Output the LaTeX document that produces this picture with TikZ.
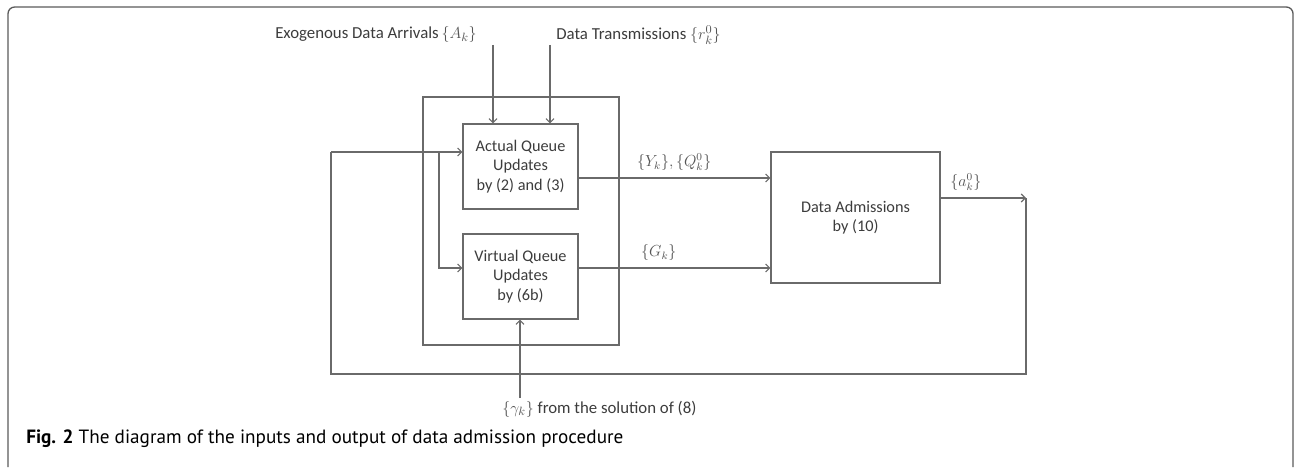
\documentclass[tikz,border=0pt]{standalone}
\usepackage{fontspec}
\setmainfont{Carlito}
\newfontfamily\capfont{PT Sans}
\usetikzlibrary{arrows.meta}
\definecolor{linegray}{HTML}{6A6A6A}
\definecolor{textgray}{HTML}{3C3C3C}
\definecolor{mathgray}{HTML}{555555}
\definecolor{framegray}{HTML}{5A5A5A}
\begin{document}
\begin{tikzpicture}[x=0.75pt,y=-0.75pt,
  wire/.style={draw=linegray,line width=0.85pt},
  flow/.style={wire,-{Straight Barb[length=3pt,width=6pt]}},
  blockbox/.style={draw=linegray,line width=0.85pt,rectangle,align=center,
    inner sep=0pt,text=textgray,font=\fontsize{12.2}{14.5}\selectfont},
  lbl/.style={inner sep=0pt,text=textgray,font=\fontsize{12.6}{14}\selectfont},
  mlbl/.style={inner sep=0pt,text=mathgray,font=\fontsize{12}{14}\selectfont}]
\useasboundingbox (0,0) rectangle (1294,467);

% page frame (open at the bottom)
\draw[framegray,line width=1pt,rounded corners=5pt] (8,467) -- (8,7) -- (1293,7) -- (1293,467);

% blocks
\node[blockbox,minimum width=115*0.75pt,minimum height=85*0.75pt] (actual) at (520.5,166.5)
  {Actual Queue\\Updates\\by (2) and (3)};
\node[blockbox,minimum width=115*0.75pt,minimum height=85*0.75pt] (virtual) at (520.5,276.5)
  {Virtual Queue\\Updates\\by (6b)};
\node[blockbox,minimum width=169*0.75pt,minimum height=131*0.75pt] (adm) at (855.5,217.5)
  {Data Admissions\\by (10)};
\node[draw=linegray,line width=0.85pt,rectangle,inner sep=0pt,
  minimum width=196*0.75pt,minimum height=248*0.75pt] (group) at (521,221) {};

% external inputs
\node[lbl,anchor=east] (arr) at (477,35) {Exogenous Data Arrivals\,\textcolor{mathgray}{$\{A_k\}$}};
\node[lbl,anchor=west] (trans) at (556,35) {Data Transmissions \textcolor{mathgray}{$\{r_k^0\}$}};
\node[lbl,anchor=west] (gam) at (502,409) {\textcolor{mathgray}{$\{\gamma_k\}$} from the solution of (8)};

\coordinate (a1) at (493,45);
\coordinate (t1) at (550,45);
\coordinate (g1) at (520,398);
\draw[flow] (a1) -- (a1 |- actual.north);
\draw[flow] (t1) -- (t1 |- actual.north);
\draw[flow] (g1) -- (g1 |- virtual.south);

% outputs of the queue blocks
\coordinate (y1) at (578,178);
\coordinate (gk1) at (578,268);
\draw[flow] (y1) -- (y1 -| adm.west) node[mlbl,pos=0.5,above=5pt] {$\{Y_k\},\{Q_k^0\}$};
\draw[flow] (gk1) -- (gk1 -| adm.west) node[mlbl,pos=0.42,above=5pt] {$\{G_k\}$};

% admission output and feedback loop
\coordinate (o1) at (940,198);
\coordinate (o2) at (1026,198);
\coordinate (o3) at (1026,374);
\coordinate (o4) at (331,374);
\coordinate (o5) at (331,152);
\coordinate (br) at (439,152);
\draw[flow] (o1) -- (o2) node[mlbl,pos=0.3,above=5pt] {$\{a_k^0\}$};
\draw[wire] (o2) -- (o3) -- (o4) -- (o5);
\draw[flow] (o5) -- (o5 -| actual.west);
\draw[flow] (br) |- (virtual.west |- 0,268);

% caption
\node[inner sep=0pt,anchor=west,text=black,font=\capfont\fontsize{14.4}{16}\selectfont] (cap) at (26,439)
  {\textbf{Fig. 2} The diagram of the inputs and output of data admission procedure};
\end{tikzpicture}
\end{document}
